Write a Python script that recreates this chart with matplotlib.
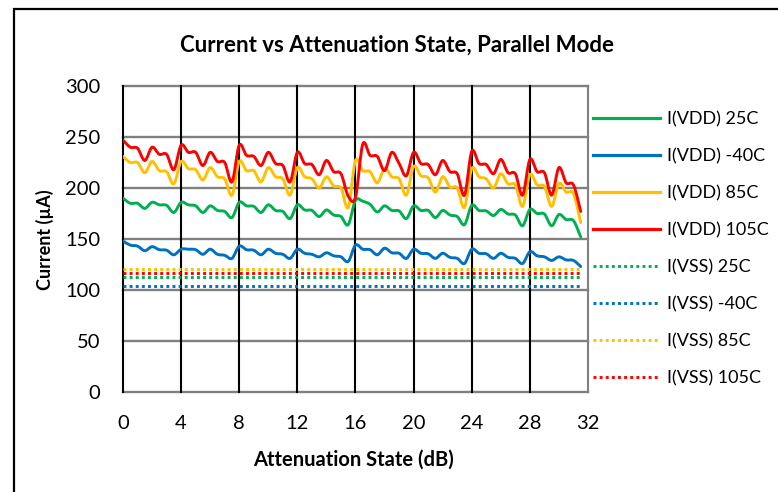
import matplotlib
matplotlib.use("Agg")
import matplotlib.pyplot as plt
import numpy as np
from matplotlib.path import Path
from matplotlib.patches import PathPatch, Rectangle
from matplotlib.lines import Line2D

# ---------------- data ----------------
atten_db = [0.0, 0.5, 1.0, 1.5, 2.0, 2.5, 3.0, 3.5,
            4.0, 4.5, 5.0, 5.5, 6.0, 6.5, 7.0, 7.5,
            8.0, 8.5, 9.0, 9.5, 10.0, 10.5, 11.0, 11.5,
            12.0, 12.5, 13.0, 13.5, 14.0, 14.5, 15.0, 15.5,
            16.0, 16.5, 17.0, 17.5, 18.0, 18.5, 19.0, 19.5,
            20.0, 20.5, 21.0, 21.5, 22.0, 22.5, 23.0, 23.5,
            24.0, 24.5, 25.0, 25.5, 26.0, 26.5, 27.0, 27.5,
            28.0, 28.5, 29.0, 29.5, 30.0, 30.5, 31.0, 31.5]

ivdd_25 = [190, 185, 185, 180, 186, 183.5, 183, 176,
           186, 183.5, 182.5, 176, 182.5, 178, 177, 171,
           186, 182.5, 182, 176, 183.5, 178, 177, 170,
           183.5, 178.5, 178, 172, 178.5, 173.5, 172, 164,
           188, 187, 184, 176.5, 182.5, 178, 177.5, 170,
           182.5, 178, 178, 171, 178, 173.5, 172, 164,
           183, 178, 177.5, 173, 179, 174.5, 173.5, 163,
           179, 175, 174.5, 163, 174, 169, 168, 152]

ivdd_m40 = [148, 144, 143, 138.5, 142.5, 139.5, 139, 134.5,
            140, 140, 139.5, 135, 140, 135, 134, 131,
            143, 139.5, 139, 134.5, 140, 136, 135, 131,
            140, 136, 135, 132.5, 136.5, 133.5, 132.5, 128,
            144, 140, 139.5, 134.5, 141, 136.5, 136, 131,
            140, 136, 135.5, 131, 136, 132, 131, 126,
            140, 136, 135.5, 131, 136, 132, 131, 126,
            137.5, 133.5, 132.5, 129, 132.5, 129.5, 129, 123]

ivdd_85 = [231, 225, 225, 215, 226, 217, 216, 204,
           226, 219, 218, 208, 220, 211, 209, 193,
           226, 217, 217, 206, 220, 211, 209, 193,
           220, 211, 209, 200, 211, 202, 200, 181,
           227, 217, 216, 205, 219, 211, 209, 193,
           221, 212, 210, 196, 211, 201, 200, 181,
           219, 211, 209, 200, 214, 204, 203, 182,
           213, 203, 201.5, 182, 204.5, 196, 194.5, 166]

ivdd_105 = [247, 240, 239, 227, 240, 233, 233, 218,
            242, 235, 235, 222, 235, 226, 225, 206,
            242, 232, 231, 222, 235, 224, 222, 206,
            235, 224, 223, 213, 227, 216, 214, 192,
            191, 243, 232, 231, 217, 235, 224, 212,
            235, 224, 223, 213, 227, 216, 214, 193,
            236, 224, 223, 214, 228, 215, 214, 193,
            228, 216, 215, 193, 220, 205, 203, 177]

ivss_25 = [113] * 64
ivss_m40 = [104] * 64
ivss_85 = [121] * 64
ivss_105 = [117] * 64

series_labels = ["I(VDD) 25C", "I(VDD) -40C", "I(VDD) 85C", "I(VDD) 105C",
                 "I(VSS) 25C", "I(VSS) -40C", "I(VSS) 85C", "I(VSS) 105C"]
x_ticks = [0, 4, 8, 12, 16, 20, 24, 28, 32]
y_ticks = [0, 50, 100, 150, 200, 250, 300]

# ---------------- style ----------------
GREEN = "#00b050"
BLUE = "#0070c0"
YELLOW = "#ffc000"
RED = "#ff0000"
FONT = "Lato"
plt.rcParams["font.family"] = [FONT, "DejaVu Sans"]

W, H = 778, 492
fig = plt.figure(figsize=(W / 100, H / 100), dpi=100)
fig.patch.set_facecolor("white")

x0, x1 = 123, 588
y_top, y_bot = 86, 392
ax = fig.add_axes([x0 / W, 1 - y_bot / H, (x1 - x0) / W, (y_bot - y_top) / H])
ax.set_xlim(0, 32)
ax.set_ylim(0, 300)


def smooth_path(xs, ys):
    """Excel-style smoothed line as cubic Bezier segments (in data coords)."""
    P = np.column_stack([xs, ys]).astype(float)
    n = len(P)
    verts = [P[0]]
    codes = [Path.MOVETO]
    for i in range(n - 1):
        pm = P[i - 1] if i > 0 else P[i]
        p0 = P[i]
        p1 = P[i + 1]
        p2 = P[i + 2] if i + 2 < n else P[i + 1]
        c1 = p0 + (p1 - pm) / 6.0
        c2 = p1 - (p2 - p0) / 6.0
        verts += [c1, c2, p1]
        codes += [Path.CURVE4] * 3
    return Path(verts, codes)


solid = [(ivdd_25, GREEN), (ivdd_m40, BLUE), (ivdd_85, YELLOW), (ivdd_105, RED)]
dotted = [(ivss_25, GREEN), (ivss_m40, BLUE), (ivss_85, YELLOW), (ivss_105, RED)]

LW = 2.1
handles = []
for vals, col in solid:
    patch = PathPatch(smooth_path(atten_db, vals), facecolor="none", edgecolor=col,
                      lw=LW, zorder=4, capstyle="round", joinstyle="round")
    ax.add_patch(patch)
    handles.append(Line2D([], [], color=col, lw=LW + 0.2))
for vals, col in dotted:
    ax.plot(atten_db, vals, color=col, lw=LW, linestyle=(0, (1, 1.1)),
            dash_capstyle="butt", zorder=4)
    handles.append(Line2D([], [], color=col, lw=LW, linestyle=(0, (1, 1.1)),
                          dash_capstyle="butt"))

# grid
for yv in y_ticks:
    ax.axhline(yv, color="#808080", lw=1.7, zorder=1, clip_on=False)
for xv in x_ticks[:-1]:
    ax.axvline(xv, color="black", lw=1.5, zorder=2, clip_on=False)
ax.axvline(32, color="#808080", lw=1.5, zorder=2, clip_on=False)
for s in ax.spines.values():
    s.set_visible(False)

ax.set_xticks(x_ticks)
ax.set_yticks(y_ticks)
ax.tick_params(length=0, labelsize=14.5, colors="black")
ax.tick_params(axis="y", pad=16.5)
ax.tick_params(axis="x", pad=16.5)

ax.set_xlabel("Attenuation State (dB)", fontsize=14.5, fontweight="bold")
ax.xaxis.set_label_coords((353 - x0) / (x1 - x0), (y_bot - 450) / (y_bot - y_top))
ax.set_ylabel("Current (µA)", fontsize=13, fontweight="bold")
ax.yaxis.set_label_coords((54 - x0) / (x1 - x0), (y_bot - 240) / (y_bot - y_top))

fig.text(397 / W, 1 - 45 / H, "Current vs Attenuation State, Parallel Mode",
         ha="center", va="center", fontsize=16, fontweight="bold")

leg = fig.legend(handles, series_labels, loc="upper left",
                 bbox_to_anchor=(593 / W, 1 - 111 / H), frameon=False,
                 fontsize=13, handlelength=3.7, handletextpad=0.4,
                 labelspacing=1.16, borderpad=0, borderaxespad=0)

# outer chart border
fig.add_artist(Rectangle((14 / W, -0.2), 1.2, 1 - 9 / H + 0.2,
                         transform=fig.transFigure, fill=False,
                         edgecolor="black", lw=1.6))

fig.savefig("out.png", dpi=100, facecolor="white")
